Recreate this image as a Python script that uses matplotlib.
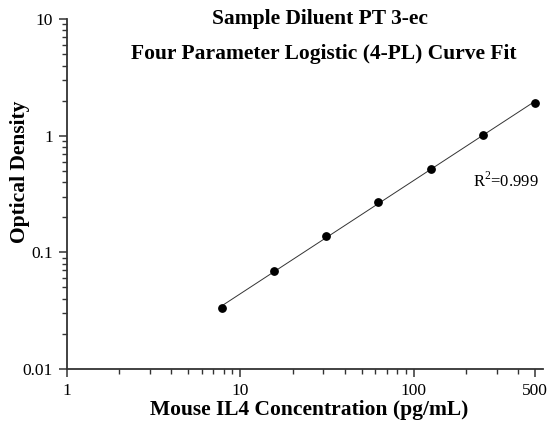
import numpy as np
from matplotlib import pyplot as plt
from matplotlib.ticker import FixedLocator, NullFormatter

plt.rcParams['font.family'] = ['Liberation Serif', 'DejaVu Serif']
plt.rcParams['mathtext.fontset'] = 'custom'
plt.rcParams['mathtext.rm'] = 'Liberation Serif'

concentration = [7.8, 15.6, 31.25, 62.5, 125, 250, 500]
optical_density = [0.033, 0.0695, 0.137, 0.268, 0.52, 1.01, 1.92]
x_ticks = [1, 10, 100, 500]
x_tick_labels = ['1', '10', '100', '500']
y_ticks = [0.01, 0.1, 1, 10]
y_tick_labels = ['0.01', '0.1', '1', '10']

fig = plt.figure(figsize=(5.57, 4.25), dpi=100)
ax = fig.add_axes([0.120, 0.132, 0.855, 0.823])

# fitted line in log space
coef = np.polyfit(np.log10(concentration), np.log10(optical_density), 1)
xs = np.logspace(np.log10(concentration[0]), np.log10(concentration[-1]), 100)
ax.plot(xs, 10 ** np.polyval(coef, np.log10(xs)), color='#333333', lw=0.7)
ax.scatter(concentration, optical_density, s=28, color='black', zorder=3)

ax.set_xscale('log')
ax.set_yscale('log')
ax.set_xlim(1, 555)
ax.set_ylim(0.01, 10)

ax.xaxis.set_major_locator(FixedLocator(x_ticks))
ax.set_xticklabels(x_tick_labels)
x_minor = [m * d for d in (1, 10, 100) for m in range(2, 10) if m * d < 500 and m * d not in x_ticks]
ax.xaxis.set_minor_locator(FixedLocator(x_minor))
ax.xaxis.set_minor_formatter(NullFormatter())

ax.yaxis.set_major_locator(FixedLocator(y_ticks))
ax.set_yticklabels(y_tick_labels)
y_minor = [m * d for d in (0.01, 0.1, 1) for m in range(2, 10)]
ax.yaxis.set_minor_locator(FixedLocator(y_minor))
ax.yaxis.set_minor_formatter(NullFormatter())

for s in ('top', 'right'):
    ax.spines[s].set_visible(False)
for s in ('left', 'bottom'):
    ax.spines[s].set_linewidth(1.3)
    ax.spines[s].set_color('#333333')

ax.tick_params(which='major', length=6, width=1.1, labelsize=12.5, colors='#333333', labelcolor='black', pad=4)
ax.tick_params(which='minor', length=3.5, width=1, colors='#333333')

fig.text(0.555, 0.035, 'Mouse IL4 Concentration (pg/mL)', ha='center', va='center', fontsize=15.5, fontweight='bold')
fig.text(0.036, 0.595, 'Optical Density', rotation=90, ha='center', va='center', fontsize=15.5, fontweight='bold')

fig.text(0.575, 0.955, 'Sample Diluent PT 3-ec', ha='center', va='center', fontsize=15.5, fontweight='bold')
fig.text(0.582, 0.874, 'Four Parameter Logistic (4-PL) Curve Fit', ha='center', va='center', fontsize=15.5, fontweight='bold')

fig.text(0.849, 0.574, r'R$^{\mathrm{2}}$=0.999', va='center', fontsize=12)

fig.savefig('out.png', dpi=100)
